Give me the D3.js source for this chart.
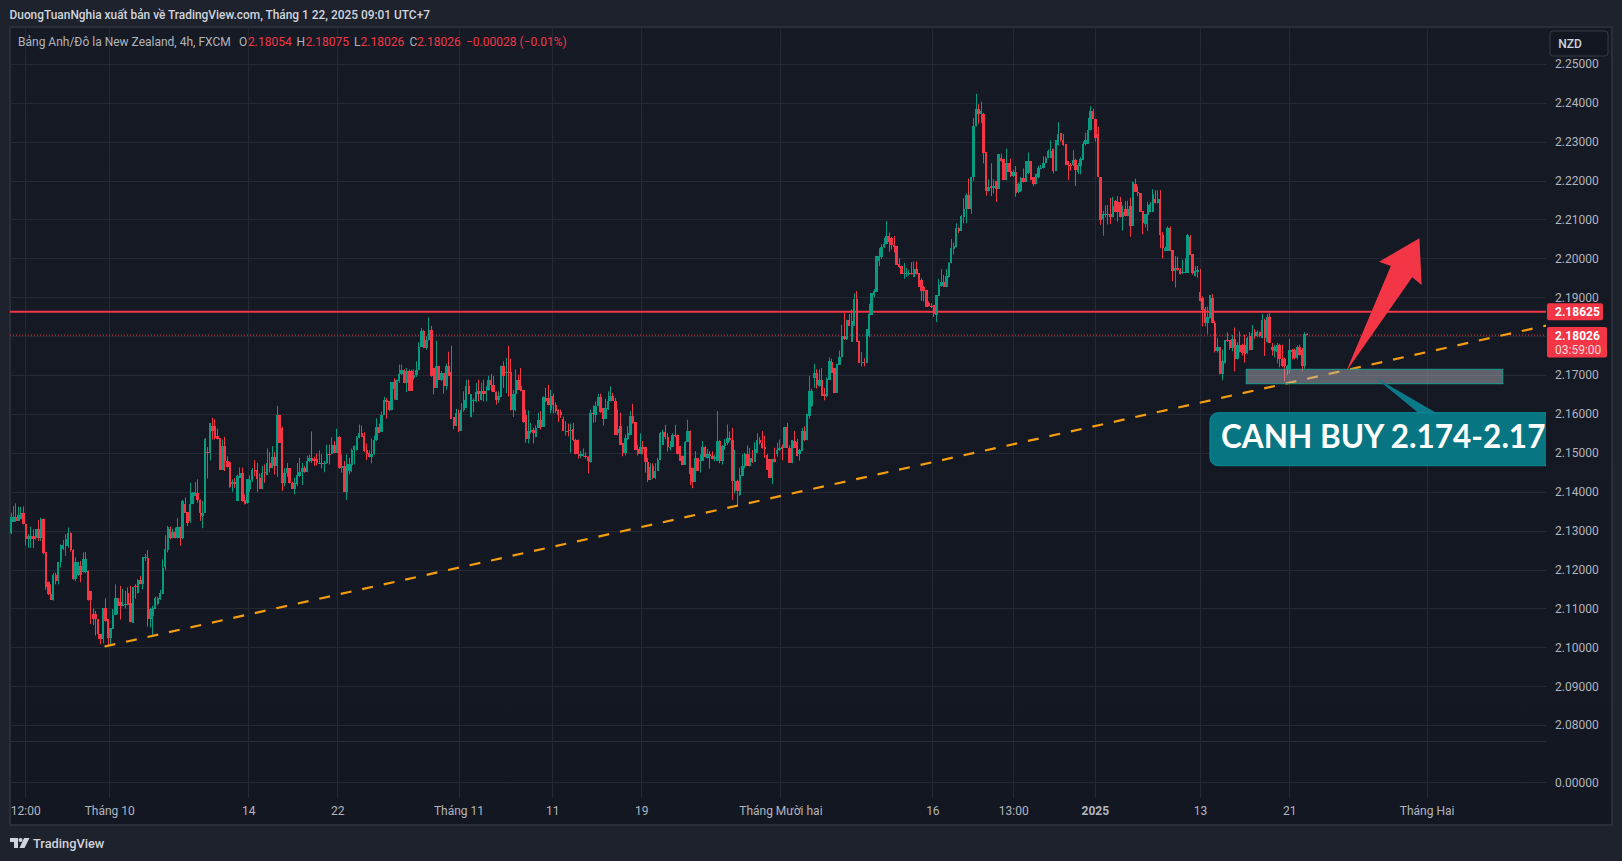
<!DOCTYPE html>
<html>
<head>
<meta charset="utf-8">
<script src="https://cdnjs.cloudflare.com/ajax/libs/d3/7.8.5/d3.min.js"></script>
<style>
  html, body { margin: 0; padding: 0; background: #1e222d; overflow: hidden; }
  svg { display: block; font-family: Roboto, "Noto Sans", sans-serif; }
</style>
</head>
<body>
<svg id="chart" width="1622" height="861"></svg>
<script>
// 4h GBP/NZD candles, ten bars per line
var opens = [
2.1295,2.1323,2.1336,2.1325,2.1331,2.1346,2.1318,2.1278,2.1279,2.1286,
2.1282,2.1303,2.1280,2.1329,2.1244,2.1169,2.1136,2.1122,2.1185,2.1171,
2.1220,2.1252,2.1261,2.1261,2.1293,2.1249,2.1175,2.1185,2.1209,2.1194,
2.1194,2.1196,2.1145,2.1085,2.1085,2.1073,2.1034,2.1021,2.1100,2.1073,
2.1025,2.1047,2.1084,2.1126,2.1117,2.1105,2.1108,2.1139,2.1113,2.1062,
2.1158,2.1139,2.1173,2.1162,2.1229,2.1229,2.1073,2.1081,2.1098,2.1111,
2.1124,2.1137,2.1207,2.1250,2.1303,2.1282,2.1297,2.1282,2.1310,2.1280,
2.1368,2.1348,2.1325,2.1368,2.1389,2.1397,2.1378,2.1338,2.1346,2.1503,
2.1500,2.1568,2.1568,2.1542,2.1538,2.1457,2.1517,2.1480,2.1477,2.1419,
2.1426,2.1376,2.1436,2.1449,2.1378,2.1371,2.1406,2.1430,2.1457,2.1457,
2.1434,2.1408,2.1450,2.1444,2.1473,2.1460,2.1490,2.1466,2.1596,2.1564,
2.1423,2.1447,2.1460,2.1423,2.1408,2.1419,2.1440,2.1450,2.1462,2.1450,
2.1479,2.1487,2.1483,2.1483,2.1473,2.1473,2.1472,2.1473,2.1497,2.1496,
2.1521,2.1500,2.1540,2.1460,2.1467,2.1399,2.1453,2.1468,2.1506,2.1508,
2.1539,2.1550,2.1543,2.1506,2.1500,2.1488,2.1498,2.1532,2.1566,2.1553,
2.1598,2.1637,2.1632,2.1609,2.1681,2.1637,2.1684,2.1703,2.1714,2.1679,
2.1709,2.1709,2.1692,2.1701,2.1714,2.1772,2.1812,2.1769,2.1789,2.1816,
2.1718,2.1667,2.1724,2.1688,2.1705,2.1673,2.1722,2.1708,2.1592,2.1570,
2.1603,2.1556,2.1609,2.1615,2.1673,2.1591,2.1634,2.1634,2.1658,2.1635,
2.1658,2.1650,2.1661,2.1686,2.1675,2.1656,2.1637,2.1644,2.1722,2.1705,
2.1707,2.1707,2.1609,2.1650,2.1688,2.1671,2.1662,2.1598,2.1536,2.1553,
2.1558,2.1540,2.1564,2.1585,2.1567,2.1641,2.1641,2.1609,2.1647,2.1624,
2.1609,2.1605,2.1588,2.1555,2.1557,2.1555,2.1562,2.1534,2.1532,2.1493,
2.1493,2.1493,2.1490,2.1477,2.1603,2.1596,2.1620,2.1644,2.1615,2.1587,
2.1613,2.1632,2.1647,2.1634,2.1550,2.1568,2.1524,2.1500,2.1535,2.1547,
2.1594,2.1579,2.1510,2.1496,2.1515,2.1515,2.1477,2.1430,2.1466,2.1435,
2.1453,2.1481,2.1521,2.1553,2.1541,2.1514,2.1515,2.1547,2.1545,2.1517,
2.1493,2.1469,2.1528,2.1557,2.1462,2.1426,2.1487,2.1479,2.1479,2.1515,
2.1487,2.1498,2.1493,2.1485,2.1479,2.1530,2.1479,2.1517,2.1526,2.1537,
2.1534,2.1401,2.1427,2.1391,2.1440,2.1466,2.1498,2.1467,2.1487,2.1476,
2.1500,2.1534,2.1524,2.1515,2.1494,2.1483,2.1435,2.1483,2.1496,2.1507,
2.1515,2.1513,2.1567,2.1513,2.1473,2.1530,2.1528,2.1497,2.1504,2.1555,
2.1532,2.1594,2.1620,2.1693,2.1705,2.1672,2.1688,2.1650,2.1645,2.1688,
2.1733,2.1718,2.1655,2.1726,2.1745,2.1801,2.1792,2.1842,2.1785,2.1826,
2.1896,2.1788,2.1732,2.1734,2.1732,2.1799,2.1855,2.1906,2.1914,2.1993,
2.2004,2.2028,2.2036,2.2057,2.2051,2.2034,2.2032,2.1985,2.1981,2.1960,
2.1960,2.1960,2.1962,2.1953,2.1972,2.1962,2.1944,2.1926,2.1919,2.1886,
2.1878,2.1880,2.1855,2.1903,2.1929,2.1940,2.1926,2.1953,2.1987,2.2024,
2.2028,2.2077,2.2071,2.2107,2.2126,2.2162,2.2126,2.2209,2.2339,2.2383,
2.2372,2.2372,2.2272,2.2173,2.2187,2.2182,2.2198,2.2179,2.2259,2.2256,
2.2201,2.2245,2.2224,2.2211,2.2222,2.2171,2.2173,2.2207,2.2196,2.2218,
2.2250,2.2209,2.2192,2.2208,2.2231,2.2233,2.2246,2.2258,2.2259,2.2280,
2.2224,2.2291,2.2322,2.2303,2.2293,2.2250,2.2239,2.2239,2.2252,2.2222,
2.2238,2.2252,2.2295,2.2295,2.2329,2.2379,2.2359,2.2319,2.2209,2.2101,
2.2111,2.2113,2.2113,2.2105,2.2147,2.2145,2.2145,2.2107,2.2126,2.2108,
2.2134,2.2083,2.2192,2.2171,2.2168,2.2121,2.2087,2.2111,2.2120,2.2120,
2.2152,2.2143,2.2152,2.2060,2.2020,2.2020,2.2079,2.2021,2.1967,2.1976,
2.1970,2.1963,2.1963,2.1963,2.2055,2.2011,2.1955,2.1966,2.1914,2.1897,
2.1869,2.1833,2.1846,2.1897,2.1833,2.1761,2.1771,2.1702,2.1732,2.1790,
2.1790,2.1769,2.1793,2.1742,2.1778,2.1778,2.1778,2.1756,2.1799,2.1765,
2.1810,2.1799,2.1810,2.1795,2.1842,2.1784,2.1848,2.1773,2.1762,2.1760,
2.1778,2.1741,2.1741,2.1715,2.1715,2.1765,2.1763,2.1743,2.1772,2.1765,
2.1724,2.18054
];
var closes = [
2.1336,2.1336,2.1325,2.1339,2.1346,2.1316,2.1278,2.1286,2.1285,2.1279,
2.1303,2.1280,2.1329,2.1242,2.1156,2.1136,2.1122,2.1185,2.1171,2.1220,
2.1262,2.1262,2.1279,2.1293,2.1249,2.1175,2.1218,2.1218,2.1185,2.1228,
2.1228,2.1122,2.1122,2.1073,2.1073,2.1034,2.1021,2.1100,2.1067,2.1025,
2.1049,2.1084,2.1126,2.1107,2.1105,2.1110,2.1111,2.1108,2.1064,2.1155,
2.1154,2.1173,2.1162,2.1231,2.1232,2.1073,2.1098,2.1101,2.1128,2.1128,
2.1139,2.1205,2.1252,2.1310,2.1282,2.1297,2.1282,2.1308,2.1280,2.1376,
2.1346,2.1320,2.1368,2.1397,2.1399,2.1378,2.1346,2.1346,2.1536,2.1500,
2.1577,2.1557,2.1538,2.1536,2.1457,2.1517,2.1479,2.1463,2.1412,2.1426,
2.1419,2.1440,2.1449,2.1376,2.1369,2.1432,2.1430,2.1457,2.1455,2.1432,
2.1408,2.1447,2.1447,2.1473,2.1460,2.1490,2.1466,2.1596,2.1526,2.1423,
2.1449,2.1460,2.1423,2.1408,2.1423,2.1442,2.1450,2.1461,2.1450,2.1479,
2.1487,2.1480,2.1479,2.1473,2.1474,2.1472,2.1473,2.1496,2.1494,2.1521,
2.1500,2.1541,2.1460,2.1466,2.1399,2.1470,2.1470,2.1506,2.1517,2.1539,
2.1550,2.1541,2.1504,2.1498,2.1488,2.1498,2.1532,2.1566,2.1551,2.1598,
2.1637,2.1630,2.1609,2.1681,2.1665,2.1688,2.1703,2.1714,2.1679,2.1709,
2.1660,2.1660,2.1701,2.1714,2.1772,2.1812,2.1769,2.1789,2.1816,2.1697,
2.1667,2.1724,2.1688,2.1705,2.1673,2.1722,2.1697,2.1588,2.1568,2.1603,
2.1556,2.1609,2.1635,2.1673,2.1650,2.1650,2.1637,2.1656,2.1650,2.1658,
2.1650,2.1658,2.1686,2.1675,2.1656,2.1637,2.1645,2.1722,2.1697,2.1707,
2.1705,2.1609,2.1652,2.1688,2.1662,2.1658,2.1579,2.1536,2.1556,2.1558,
2.1551,2.1565,2.1585,2.1567,2.1644,2.1634,2.1622,2.1647,2.1622,2.1607,
2.1596,2.1596,2.1556,2.1556,2.1555,2.1558,2.1532,2.1496,2.1496,2.1496,
2.1496,2.1490,2.1479,2.1603,2.1600,2.1621,2.1644,2.1605,2.1588,2.1614,
2.1632,2.1647,2.1634,2.1547,2.1560,2.1521,2.1500,2.1537,2.1550,2.1594,
2.1577,2.1508,2.1496,2.1515,2.1510,2.1477,2.1430,2.1463,2.1435,2.1453,
2.1481,2.1551,2.1553,2.1541,2.1515,2.1516,2.1547,2.1545,2.1496,2.1480,
2.1469,2.1528,2.1557,2.1445,2.1426,2.1487,2.1453,2.1481,2.1515,2.1488,
2.1498,2.1491,2.1485,2.1489,2.1530,2.1479,2.1517,2.1526,2.1537,2.1532,
2.1427,2.1427,2.1401,2.1442,2.1466,2.1498,2.1467,2.1487,2.1476,2.1510,
2.1534,2.1524,2.1513,2.1510,2.1457,2.1435,2.1483,2.1476,2.1507,2.1513,
2.1511,2.1567,2.1513,2.1474,2.1532,2.1513,2.1491,2.1507,2.1555,2.1532,
2.1600,2.1660,2.1660,2.1705,2.1675,2.1688,2.1647,2.1647,2.1690,2.1735,
2.1705,2.1655,2.1729,2.1745,2.1801,2.1792,2.1842,2.1826,2.1839,2.1896,
2.1786,2.1732,2.1734,2.1732,2.1818,2.1857,2.1910,2.1916,2.2006,2.2006,
2.2030,2.2036,2.2057,2.2041,2.2034,2.2030,2.1983,2.1977,2.1960,2.1962,
2.1962,2.1962,2.1960,2.1972,2.1960,2.1926,2.1916,2.1917,2.1876,2.1878,
2.1877,2.1857,2.1905,2.1932,2.1940,2.1926,2.1955,2.1987,2.2027,2.2032,
2.2077,2.2071,2.2108,2.2126,2.2162,2.2126,2.2209,2.2339,2.2383,2.2370,
2.2379,2.2271,2.2173,2.2184,2.2182,2.2187,2.2179,2.2267,2.2250,2.2201,
2.2244,2.2222,2.2211,2.2222,2.2168,2.2191,2.2207,2.2196,2.2250,2.2250,
2.2201,2.2191,2.2216,2.2232,2.2233,2.2246,2.2258,2.2275,2.2275,2.2224,
2.2303,2.2320,2.2303,2.2291,2.2239,2.2239,2.2238,2.2252,2.2226,2.2239,
2.2255,2.2293,2.2303,2.2329,2.2378,2.2359,2.2308,2.2209,2.2098,2.2113,
2.2113,2.2111,2.2105,2.2134,2.2118,2.2120,2.2105,2.2118,2.2108,2.2126,
2.2083,2.2197,2.2171,2.2168,2.2120,2.2090,2.2113,2.2137,2.2139,2.2165,
2.2143,2.2152,2.2060,2.2027,2.2027,2.2079,2.2019,2.1967,2.1976,2.1970,
2.1960,2.1966,2.1966,2.2060,2.2008,2.1961,2.1968,2.1970,2.1889,2.1867,
2.1833,2.1850,2.1906,2.1833,2.1761,2.1771,2.1702,2.1735,2.1790,2.1789,
2.1769,2.1793,2.1742,2.1778,2.1758,2.1756,2.1755,2.1795,2.1763,2.1809,
2.1799,2.1810,2.1799,2.1842,2.1795,2.1848,2.1782,2.1765,2.1773,2.1778,
2.1741,2.1724,2.1722,2.1722,2.1765,2.1758,2.1743,2.1773,2.1752,2.1722,
2.1806,2.18026
];
var highs = [
2.1346,2.1363,2.1370,2.1361,2.1361,2.1362,2.1318,2.1291,2.1310,2.1303,
2.1303,2.1327,2.1333,2.1331,2.1244,2.1169,2.1162,2.1191,2.1192,2.1220,
2.1264,2.1276,2.1291,2.1308,2.1295,2.1252,2.1231,2.1220,2.1222,2.1244,
2.1245,2.1197,2.1145,2.1100,2.1094,2.1073,2.1034,2.1100,2.1126,2.1073,
2.1049,2.1098,2.1162,2.1126,2.1158,2.1150,2.1145,2.1154,2.1158,2.1155,
2.1162,2.1175,2.1183,2.1231,2.1240,2.1250,2.1102,2.1107,2.1130,2.1130,
2.1148,2.1226,2.1288,2.1312,2.1310,2.1305,2.1308,2.1332,2.1310,2.1379,
2.1385,2.1348,2.1423,2.1399,2.1425,2.1432,2.1380,2.1376,2.1538,2.1515,
2.1577,2.1590,2.1586,2.1562,2.1538,2.1534,2.1541,2.1491,2.1477,2.1432,
2.1435,2.1444,2.1462,2.1462,2.1393,2.1432,2.1442,2.1460,2.1481,2.1474,
2.1447,2.1466,2.1470,2.1511,2.1502,2.1517,2.1502,2.1621,2.1598,2.1567,
2.1460,2.1474,2.1460,2.1426,2.1436,2.1474,2.1487,2.1474,2.1466,2.1493,
2.1495,2.1555,2.1490,2.1498,2.1506,2.1496,2.1479,2.1521,2.1521,2.1540,
2.1530,2.1562,2.1543,2.1496,2.1479,2.1496,2.1487,2.1511,2.1519,2.1543,
2.1573,2.1570,2.1553,2.1524,2.1506,2.1537,2.1544,2.1589,2.1575,2.1606,
2.1644,2.1641,2.1632,2.1681,2.1692,2.1688,2.1727,2.1727,2.1715,2.1718,
2.1714,2.1714,2.1715,2.1735,2.1784,2.1821,2.1816,2.1800,2.1848,2.1826,
2.1718,2.1788,2.1724,2.1710,2.1705,2.1729,2.1760,2.1775,2.1592,2.1613,
2.1611,2.1628,2.1658,2.1688,2.1688,2.1650,2.1640,2.1680,2.1688,2.1680,
2.1688,2.1671,2.1698,2.1703,2.1697,2.1658,2.1658,2.1724,2.1735,2.1744,
2.1775,2.1742,2.1662,2.1714,2.1701,2.1718,2.1662,2.1611,2.1609,2.1577,
2.1564,2.1570,2.1603,2.1607,2.1645,2.1667,2.1675,2.1662,2.1652,2.1630,
2.1611,2.1611,2.1593,2.1581,2.1575,2.1575,2.1577,2.1536,2.1534,2.1505,
2.1511,2.1501,2.1491,2.1611,2.1622,2.1632,2.1652,2.1652,2.1615,2.1639,
2.1658,2.1671,2.1654,2.1641,2.1611,2.1603,2.1526,2.1547,2.1568,2.1607,
2.1626,2.1579,2.1521,2.1550,2.1530,2.1515,2.1487,2.1473,2.1473,2.1473,
2.1487,2.1553,2.1559,2.1572,2.1551,2.1530,2.1550,2.1572,2.1547,2.1518,
2.1493,2.1530,2.1585,2.1557,2.1462,2.1504,2.1487,2.1496,2.1530,2.1517,
2.1510,2.1504,2.1504,2.1495,2.1607,2.1532,2.1520,2.1535,2.1573,2.1555,
2.1564,2.1508,2.1431,2.1462,2.1496,2.1500,2.1519,2.1513,2.1507,2.1527,
2.1551,2.1540,2.1556,2.1544,2.1497,2.1483,2.1483,2.1513,2.1526,2.1534,
2.1521,2.1567,2.1577,2.1519,2.1532,2.1556,2.1536,2.1510,2.1564,2.1568,
2.1600,2.1697,2.1665,2.1729,2.1715,2.1714,2.1718,2.1667,2.1694,2.1745,
2.1742,2.1718,2.1729,2.1763,2.1829,2.1861,2.1842,2.1857,2.1869,2.1910,
2.1916,2.1788,2.1759,2.1743,2.1818,2.1883,2.1910,2.1921,2.2006,2.2026,
2.2036,2.2053,2.2096,2.2066,2.2055,2.2057,2.2032,2.2000,2.1981,2.1988,
2.1975,2.1970,2.1990,2.1992,2.1992,2.1962,2.1949,2.1929,2.1919,2.1889,
2.1884,2.1880,2.1905,2.1947,2.1972,2.1957,2.1972,2.1990,2.2050,2.2040,
2.2090,2.2080,2.2111,2.2154,2.2167,2.2205,2.2209,2.2361,2.2423,2.2396,
2.2403,2.2374,2.2272,2.2203,2.2244,2.2203,2.2198,2.2267,2.2269,2.2256,
2.2282,2.2245,2.2256,2.2228,2.2237,2.2195,2.2209,2.2231,2.2250,2.2272,
2.2250,2.2209,2.2218,2.2238,2.2240,2.2262,2.2262,2.2280,2.2303,2.2282,
2.2303,2.2350,2.2322,2.2320,2.2293,2.2250,2.2245,2.2278,2.2256,2.2245,
2.2260,2.2301,2.2323,2.2361,2.2391,2.2385,2.2359,2.2338,2.2209,2.2122,
2.2136,2.2137,2.2155,2.2158,2.2150,2.2160,2.2158,2.2135,2.2147,2.2148,
2.2156,2.2197,2.2205,2.2185,2.2168,2.2121,2.2113,2.2145,2.2145,2.2178,
2.2175,2.2175,2.2175,2.2067,2.2030,2.2082,2.2082,2.2021,2.2006,2.2004,
2.1975,2.1996,2.2000,2.2063,2.2060,2.2011,2.1980,2.1980,2.1973,2.1902,
2.1875,2.1876,2.1906,2.1908,2.1840,2.1795,2.1771,2.1765,2.1790,2.1810,
2.1790,2.1803,2.1822,2.1785,2.1812,2.1780,2.1803,2.1798,2.1810,2.1829,
2.1818,2.1815,2.1812,2.1857,2.1845,2.1857,2.1859,2.1782,2.1778,2.1782,
2.1780,2.1778,2.1745,2.1726,2.1793,2.1767,2.1768,2.1776,2.1778,2.1770,
2.1810,2.18075
];
var lows = [
2.1291,2.1323,2.1323,2.1325,2.1329,2.1316,2.1262,2.1256,2.1255,2.1255,
2.1276,2.1273,2.1273,2.1239,2.1148,2.1134,2.1122,2.1120,2.1162,2.1162,
2.1205,2.1250,2.1235,2.1256,2.1246,2.1173,2.1170,2.1184,2.1167,2.1192,
2.1190,2.1120,2.1060,2.1057,2.1030,2.1021,2.1008,2.1010,2.1066,2.1003,
2.1005,2.1047,2.1084,2.1085,2.1071,2.1105,2.1100,2.1108,2.1064,2.1062,
2.1125,2.1138,2.1162,2.1149,2.1222,2.1053,2.1051,2.1032,2.1098,2.1108,
2.1122,2.1137,2.1198,2.1244,2.1278,2.1280,2.1280,2.1280,2.1261,2.1278,
2.1346,2.1312,2.1320,2.1368,2.1389,2.1372,2.1325,2.1306,2.1346,2.1434,
2.1480,2.1534,2.1534,2.1534,2.1457,2.1457,2.1453,2.1462,2.1410,2.1400,
2.1410,2.1376,2.1436,2.1374,2.1367,2.1369,2.1399,2.1425,2.1440,2.1399,
2.1408,2.1408,2.1423,2.1444,2.1450,2.1460,2.1444,2.1438,2.1526,2.1402,
2.1414,2.1438,2.1421,2.1408,2.1393,2.1415,2.1438,2.1417,2.1449,2.1450,
2.1476,2.1474,2.1466,2.1468,2.1473,2.1460,2.1450,2.1472,2.1470,2.1496,
2.1500,2.1500,2.1459,2.1449,2.1399,2.1379,2.1444,2.1450,2.1470,2.1506,
2.1539,2.1541,2.1502,2.1481,2.1488,2.1473,2.1495,2.1530,2.1551,2.1553,
2.1598,2.1588,2.1607,2.1609,2.1637,2.1637,2.1680,2.1700,2.1679,2.1656,
2.1660,2.1660,2.1688,2.1695,2.1714,2.1772,2.1769,2.1765,2.1789,2.1695,
2.1650,2.1667,2.1688,2.1685,2.1652,2.1662,2.1697,2.1588,2.1560,2.1570,
2.1553,2.1556,2.1606,2.1615,2.1650,2.1591,2.1604,2.1630,2.1632,2.1635,
2.1632,2.1632,2.1660,2.1658,2.1656,2.1624,2.1628,2.1644,2.1667,2.1654,
2.1645,2.1609,2.1592,2.1607,2.1662,2.1658,2.1577,2.1526,2.1524,2.1550,
2.1524,2.1540,2.1564,2.1560,2.1567,2.1630,2.1622,2.1601,2.1601,2.1603,
2.1579,2.1590,2.1556,2.1544,2.1542,2.1500,2.1530,2.1496,2.1485,2.1487,
2.1490,2.1485,2.1447,2.1475,2.1577,2.1579,2.1620,2.1603,2.1570,2.1587,
2.1610,2.1632,2.1634,2.1547,2.1545,2.1521,2.1491,2.1493,2.1533,2.1547,
2.1575,2.1508,2.1493,2.1496,2.1496,2.1449,2.1425,2.1430,2.1433,2.1433,
2.1453,2.1481,2.1521,2.1535,2.1503,2.1506,2.1515,2.1540,2.1496,2.1480,
2.1469,2.1469,2.1528,2.1417,2.1409,2.1426,2.1453,2.1449,2.1479,2.1488,
2.1485,2.1459,2.1483,2.1478,2.1479,2.1473,2.1470,2.1508,2.1520,2.1530,
2.1379,2.1395,2.1363,2.1389,2.1440,2.1460,2.1467,2.1465,2.1474,2.1476,
2.1500,2.1522,2.1511,2.1487,2.1457,2.1435,2.1419,2.1476,2.1490,2.1505,
2.1481,2.1513,2.1513,2.1474,2.1473,2.1513,2.1491,2.1480,2.1504,2.1530,
2.1532,2.1588,2.1618,2.1667,2.1665,2.1670,2.1647,2.1635,2.1643,2.1688,
2.1705,2.1655,2.1655,2.1726,2.1745,2.1790,2.1790,2.1826,2.1785,2.1826,
2.1786,2.1732,2.1722,2.1722,2.1732,2.1797,2.1855,2.1900,2.1914,2.1980,
2.1998,2.2026,2.2036,2.2017,2.2022,2.2015,2.1983,2.1975,2.1960,2.1947,
2.1952,2.1955,2.1958,2.1953,2.1958,2.1926,2.1891,2.1889,2.1876,2.1876,
2.1872,2.1849,2.1836,2.1903,2.1927,2.1926,2.1926,2.1950,2.1987,2.2010,
2.2028,2.2065,2.2071,2.2090,2.2090,2.2126,2.2114,2.2199,2.2339,2.2346,
2.2348,2.2244,2.2161,2.2172,2.2160,2.2167,2.2145,2.2179,2.2248,2.2201,
2.2201,2.2222,2.2209,2.2209,2.2158,2.2168,2.2171,2.2195,2.2196,2.2216,
2.2201,2.2185,2.2190,2.2206,2.2229,2.2231,2.2244,2.2257,2.2258,2.2218,
2.2224,2.2290,2.2300,2.2289,2.2239,2.2201,2.2225,2.2237,2.2186,2.2217,
2.2216,2.2252,2.2290,2.2295,2.2329,2.2359,2.2300,2.2209,2.2086,2.2058,
2.2105,2.2087,2.2088,2.2105,2.2118,2.2094,2.2105,2.2071,2.2108,2.2108,
2.2055,2.2083,2.2171,2.2160,2.2120,2.2062,2.2080,2.2070,2.2118,2.2120,
2.2141,2.2141,2.2026,2.2000,2.2018,2.2020,2.2019,2.1941,2.1925,2.1968,
2.1958,2.1960,2.1962,2.1963,2.2008,2.1958,2.1953,2.1950,2.1889,2.1825,
2.1825,2.1806,2.1845,2.1833,2.1758,2.1758,2.1702,2.1686,2.1730,2.1785,
2.1765,2.1761,2.1709,2.1740,2.1758,2.1750,2.1732,2.1754,2.1763,2.1765,
2.1793,2.1797,2.1797,2.1795,2.1749,2.1784,2.1782,2.1750,2.1745,2.1730,
2.1720,2.1720,2.1684,2.1700,2.1705,2.1740,2.1740,2.1740,2.1750,2.1710,
2.1716,2.18026
];

var priceTicks = [2.08, 2.09, 2.10, 2.11, 2.12, 2.13, 2.14, 2.15, 2.16, 2.17, 2.18, 2.19, 2.20, 2.21, 2.22, 2.23, 2.24, 2.25];
var timeTickBars = [5.75, 39.5, 95.4, 131.2, 179.9, 217.6, 253.4, 309.3, 370.4, 402.9, 435.7, 478, 513.9, 569.1];
var timeTickLabels = ['12:00', 'Tháng 10', '14', '22', 'Tháng 11', '11', '19', 'Tháng Mười hai', '16', '13:00', '2025', '13', '21', 'Tháng Hai'];

// drawings on the chart, given as bar number / price
var resistancePrice = 2.18625;
var lastPrice = 2.18026;
var trendBars = [37.6, 617.1];
var trendPrices = [2.1002, 2.1827];
var zoneBars = [496.6, 599.7];
var zonePrices = [2.17147, 2.16776];
var arrowBars = [536.7, 554.7, 550, 566.2, 567.1, 563.3];
var arrowPrices = [2.17085, 2.19802, 2.19913, 2.20514, 2.19314, 2.19512];
var tailBars = [548.3, 565.7, 572.9];
var tailPrices = [2.16941, 2.16031, 2.16031];
var calloutBars = [482, 679];
var calloutPrices = [2.16031, 2.14668];

var red = '#f23645', green = '#089981';
var paneLeft = 10, paneRight = 1546, paneTop = 27, paneBottom = 741, gridBottom = 798;

var svg = d3.select('#chart');
var barCount = closes.length;

var x = d3.scaleLinear().domain([0, 521]).range([11, 1307]);
var y = d3.scaleLinear().domain([2.08, 2.25]).range([725.1, 63.8]);
var y2 = d3.scaleLinear().domain([0, 1]).range([782.3, 741.3]);

var defs = svg.append('defs');
defs.append('clipPath').attr('id', 'pane').append('rect')
    .attr('x', paneLeft).attr('y', paneTop)
    .attr('width', paneRight - paneLeft).attr('height', paneBottom - paneTop);

var bg = defs.append('linearGradient').attr('id', 'paneBg')
    .attr('x1', 0).attr('y1', 0).attr('x2', 0).attr('y2', 1);
bg.append('stop').attr('offset', '0%').attr('stop-color', '#161a25');
bg.append('stop').attr('offset', '100%').attr('stop-color', '#131722');

// pane and frame
svg.append('rect')
    .attr('x', paneLeft).attr('y', paneTop)
    .attr('width', 1612 - paneLeft).attr('height', 825 - paneTop)
    .attr('fill', 'url(#paneBg)').attr('stroke', '#2a2e39').attr('stroke-width', 2);

// horizontal grid + price labels
var priceAxis = d3.axisRight(y)
    .tickValues(priceTicks)
    .tickSizeInner(-(paneRight - paneLeft))
    .tickSizeOuter(0)
    .tickPadding(9)
    .tickFormat(function(d) { return d === 2.18 ? '' : d3.format('.5f')(d); });
var priceG = svg.append('g').attr('transform', 'translate(' + paneRight + ',0)').call(priceAxis);
priceG.select('.domain').remove();
priceG.selectAll('line').attr('stroke', '#252934').attr('shape-rendering', 'crispEdges');
priceG.selectAll('text').attr('fill', '#b2b5be').attr('font-size', 12).attr('font-family', 'Roboto');

// second pane, only the zero line
var lowerAxis = d3.axisRight(y2)
    .tickValues([0])
    .tickSizeInner(-(paneRight - paneLeft))
    .tickSizeOuter(0)
    .tickPadding(9)
    .tickFormat(d3.format('.5f'));
var lowerG = svg.append('g').attr('transform', 'translate(' + paneRight + ',0)').call(lowerAxis);
lowerG.select('.domain').remove();
lowerG.selectAll('line').attr('stroke', '#252934').attr('shape-rendering', 'crispEdges');
lowerG.selectAll('text').attr('fill', '#b2b5be').attr('font-size', 12).attr('font-family', 'Roboto');

svg.append('line')
    .attr('x1', paneLeft).attr('x2', paneRight)
    .attr('y1', paneBottom).attr('y2', paneBottom)
    .attr('stroke', '#2a2e39').attr('shape-rendering', 'crispEdges');

// vertical grid + time labels
var timeAxis = d3.axisBottom(x)
    .tickValues(timeTickBars)
    .tickSizeInner(-(gridBottom - paneTop))
    .tickSizeOuter(0)
    .tickPadding(8)
    .tickFormat(function(d, i) { return timeTickLabels[i]; });
var timeG = svg.append('g').attr('transform', 'translate(0,' + gridBottom + ')').call(timeAxis);
timeG.select('.domain').remove();
timeG.selectAll('line').attr('stroke', '#252934').attr('shape-rendering', 'crispEdges');
timeG.selectAll('text')
    .attr('fill', '#b2b5be').attr('font-size', 12).attr('font-family', 'Roboto')
    .attr('font-weight', function(d, i) { return timeTickLabels[i] === '2025' ? 700 : 400; });

var plot = svg.append('g').attr('clip-path', 'url(#pane)');

// price lines
plot.append('line')
    .attr('x1', paneLeft).attr('x2', paneRight)
    .attr('y1', y(lastPrice)).attr('y2', y(lastPrice))
    .attr('stroke', red).attr('stroke-width', 1).attr('stroke-dasharray', '1 2');

plot.append('line')
    .attr('x1', paneLeft).attr('x2', paneRight)
    .attr('y1', y(resistancePrice)).attr('y2', y(resistancePrice))
    .attr('stroke', red).attr('stroke-width', 2);

// candles
var barIdx = d3.range(barCount);
function barColor(i) { return closes[i] >= opens[i] ? green : red; }

plot.append('g').selectAll('line').data(barIdx).enter().append('line')
    .attr('x1', function(i) { return Math.floor(x(i)) + 0.5; })
    .attr('x2', function(i) { return Math.floor(x(i)) + 0.5; })
    .attr('y1', function(i) { return y(highs[i]); })
    .attr('y2', function(i) { return y(lows[i]); })
    .attr('stroke', barColor);

plot.append('g').selectAll('rect').data(barIdx).enter().append('rect')
    .attr('x', function(i) { return Math.round(x(i) - 1.2); })
    .attr('width', function(i) { return Math.round(x(i) + 1.2) - Math.round(x(i) - 1.2); })
    .attr('y', function(i) { return y(Math.max(opens[i], closes[i])); })
    .attr('height', function(i) { return Math.max(1, Math.abs(y(opens[i]) - y(closes[i]))); })
    .attr('fill', barColor)
    .attr('shape-rendering', 'crispEdges');

// rising trend line
plot.append('line')
    .attr('x1', x(trendBars[0])).attr('y1', y(trendPrices[0]))
    .attr('x2', x(trendBars[1])).attr('y2', y(trendPrices[1]))
    .attr('stroke', '#f59d0e').attr('stroke-width', 2.2).attr('stroke-dasharray', '11 11');

// buy zone
plot.append('rect')
    .attr('x', x(zoneBars[0])).attr('y', y(zonePrices[0]))
    .attr('width', x(zoneBars[1]) - x(zoneBars[0]))
    .attr('height', y(zonePrices[1]) - y(zonePrices[0]))
    .attr('fill', 'rgba(178,181,190,0.47)').attr('stroke', '#1f9c8b');

var polyLine = d3.line()
    .x(function(d) { return x(d[0]); })
    .y(function(d) { return y(d[1]); })
    .curve(d3.curveLinearClosed);

// red up arrow
plot.append('path')
    .attr('d', polyLine(d3.zip(arrowBars, arrowPrices)))
    .attr('fill', '#f23645');

// callout with its pointer
plot.append('path')
    .attr('d', polyLine(d3.zip(tailBars, tailPrices)))
    .attr('fill', '#0a7a8a');

plot.append('rect')
    .attr('x', x(calloutBars[0])).attr('y', y(calloutPrices[0]))
    .attr('width', x(calloutBars[1]) - x(calloutBars[0]))
    .attr('height', y(calloutPrices[1]) - y(calloutPrices[0]))
    .attr('rx', 8)
    .attr('fill', '#087583').attr('stroke', '#0b8a9a');

plot.append('text')
    .attr('x', x(calloutBars[0]) + 11).attr('y', y(calloutPrices[1]) - 18)
    .attr('fill', '#ffffff').attr('font-size', 31.5).attr('font-weight', 700)
    .attr('font-family', 'Lato')
    .text('CANH BUY 2.174-2.17');

// price tags on the axis
function priceTag(price, boxWidth, boxTop, boxHeight) {
    svg.append('rect')
        .attr('x', 1547).attr('y', boxTop).attr('width', boxWidth).attr('height', boxHeight)
        .attr('rx', 2).attr('fill', red);
    svg.append('text')
        .attr('x', 1555).attr('y', y(price) + 4.5)
        .attr('fill', '#ffffff').attr('font-size', 12).attr('font-weight', 700)
        .attr('font-family', 'Roboto')
        .text(d3.format('.5f')(price));
}
priceTag(resistancePrice, 56, y(resistancePrice) - 8.5, 17);
priceTag(lastPrice, 60, y(lastPrice) - 8, 30.5);
svg.append('text')
    .attr('x', 1555).attr('y', y(lastPrice) + 18.5)
    .attr('fill', '#f5d9dc').attr('font-size', 12).attr('font-family', 'Roboto')
    .text('03:59:00');

// currency button
svg.append('rect')
    .attr('x', 1550).attr('y', 31).attr('width', 58).attr('height', 25)
    .attr('rx', 3).attr('fill', '#131722').attr('stroke', '#363a45');
svg.append('text')
    .attr('x', 1570).attr('y', 48).attr('text-anchor', 'middle')
    .attr('fill', '#d1d4dc').attr('font-size', 12).attr('font-weight', 500)
    .attr('font-family', 'Roboto')
    .text('NZD');

// publisher line
svg.append('text')
    .attr('x', 9.5).attr('y', 19)
    .attr('fill', '#d1d4dc').attr('font-size', 11.9).attr('font-weight', 500)
    .attr('font-family', 'Roboto')
    .text('DuongTuanNghia xuất bản về TradingView.com, Tháng 1 22, 2025 09:01 UTC+7');

// legend, pieces placed one by one
var legendX = [18, 239, 248, 296.6, 305.4, 354, 360.5, 409.5, 417, 466];
var legendText = ['Bảng Anh/Đô la New Zealand, 4h, FXCM', 'O', '2.18054', 'H', '2.18075', 'L', '2.18026', 'C', '2.18026', '−0.00028 (−0.01%)'];
var legendRed = [false, false, true, false, true, false, true, false, true, true];
svg.append('g').selectAll('text').data(legendText).enter().append('text')
    .attr('x', function(d, i) { return legendX[i]; })
    .attr('y', 46)
    .attr('font-size', 12).attr('font-family', 'Roboto')
    .attr('fill', function(d, i) { return legendRed[i] ? red : '#b2b5be'; })
    .text(function(d) { return d; });

// footer logo + name
var logo = svg.append('g').attr('fill', '#d1d4dc');
logo.append('path').attr('d', 'M10 838H18V848H14V842H10Z');
logo.append('circle').attr('cx', 20.5).attr('cy', 840).attr('r', 2);
logo.append('path').attr('d', 'M24 838H29.5L24.5 848H19.5Z');
svg.append('text')
    .attr('x', 33).attr('y', 847.5)
    .attr('fill', '#d1d4dc').attr('font-size', 12.8).attr('font-weight', 500)
    .attr('font-family', 'Roboto')
    .text('TradingView');
</script>
</body>
</html>
